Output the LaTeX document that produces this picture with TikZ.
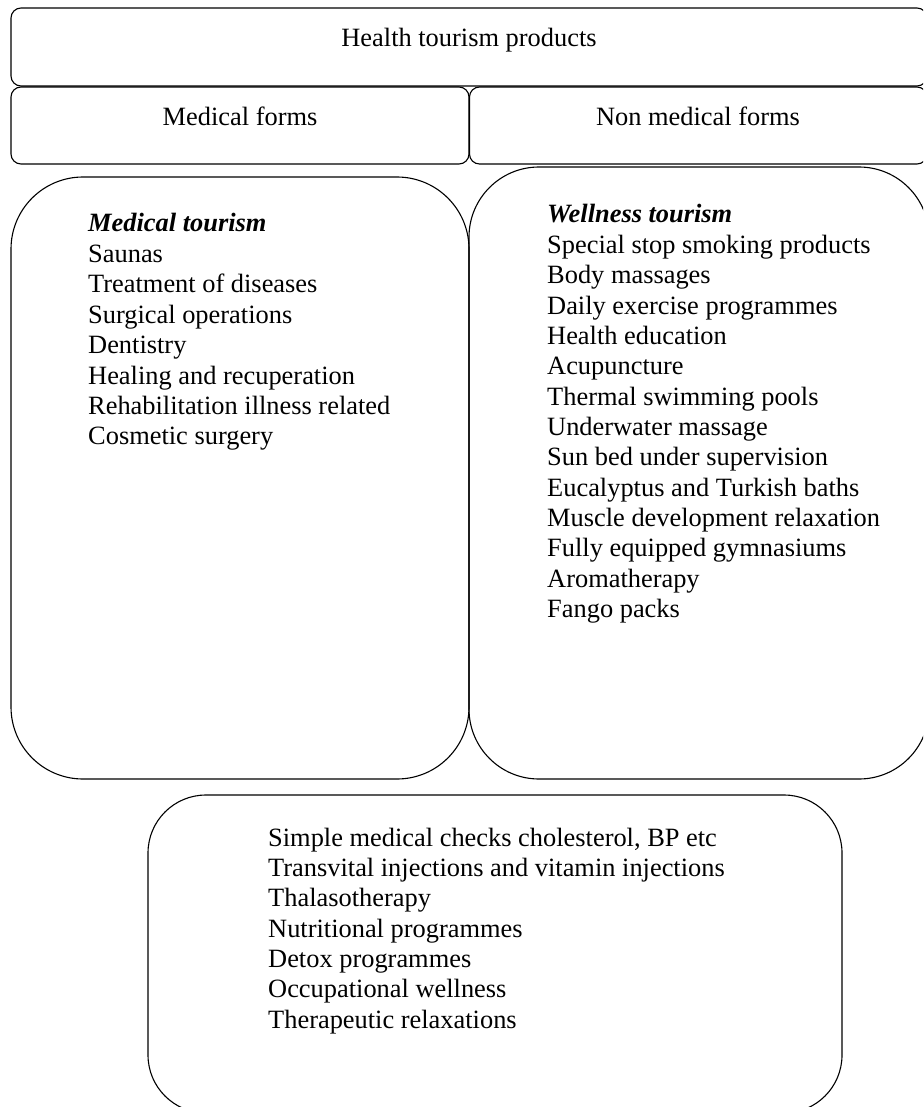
\documentclass[tikz,border=0pt]{standalone}
\usepackage{fontspec}
\setmainfont{Liberation Serif}
\begin{document}
\begin{tikzpicture}[x=1pt,y=-1pt,
  box/.style={draw, line width=1.1pt, inner sep=0pt, outer sep=0pt},
  txt/.style={anchor=base west, inner sep=0pt, font=\fontsize{26.4}{30.4}\selectfont},
  ctxt/.style={anchor=base, inner sep=0pt, font=\fontsize{26.4}{30.4}\selectfont}]
\useasboundingbox (0,0) rectangle (923,1107);
\clip (0,0) rectangle (923,1107);
% boxes
\node[box, rounded corners=10pt, minimum width=916pt, minimum height=78pt] (top) at (469,47) {};
\node[box, rounded corners=10pt, minimum width=458pt, minimum height=77pt] (medf) at (240,125.5) {};
\node[box, rounded corners=10pt, minimum width=457.5pt, minimum height=77pt] (nmedf) at (698.25,125.5) {};
\node[box, rounded corners=72pt, minimum width=458pt, minimum height=602pt] (medbox) at (240,478) {};
\node[box, rounded corners=70pt, minimum width=460pt, minimum height=612pt] (welbox) at (699,473) {};
\node[box, rounded corners=58pt, minimum width=694pt, minimum height=318pt] (botbox) at (495,954) {};
% headings
\node[ctxt] (t0) at (469,47) {Health tourism products};
\node[ctxt] (t1) at (240,125.7) {Medical forms};
\node[ctxt] (t2) at (698,125.7) {Non medical forms};
% left list
\node[txt] (mt) at (88,232) {\textbf{\textit{Medical tourism}}};
\foreach \t [count=\i from 1] in {Saunas, Treatment of diseases, Surgical operations, Dentistry, Healing and recuperation, Rehabilitation illness related, Cosmetic surgery}
  \node[txt] (ml\i) at (88,{232+30.4*\i}) {\t};
% right list
\node[txt] (wt) at (547,223) {\textbf{\textit{Wellness tourism}}};
\foreach \t [count=\i from 1] in {Special stop smoking products, Body massages, Daily exercise programmes, Health education, Acupuncture, Thermal swimming pools, Underwater massage, Sun bed under supervision, Eucalyptus and Turkish baths, Muscle development relaxation, Fully equipped gymnasiums, Aromatherapy, Fango packs}
  \node[txt] (wl\i) at (547,{223+30.35*\i}) {\t};
% bottom list
\foreach \t [count=\i from 0] in {{Simple medical checks cholesterol, BP etc}, Transvital injections and vitamin injections, Thalasotherapy, Nutritional programmes, Detox programmes, Occupational wellness, Therapeutic relaxations}
  \node[txt] (bl\i) at (268,{846+30.35*\i}) {\t};
\end{tikzpicture}
\end{document}
